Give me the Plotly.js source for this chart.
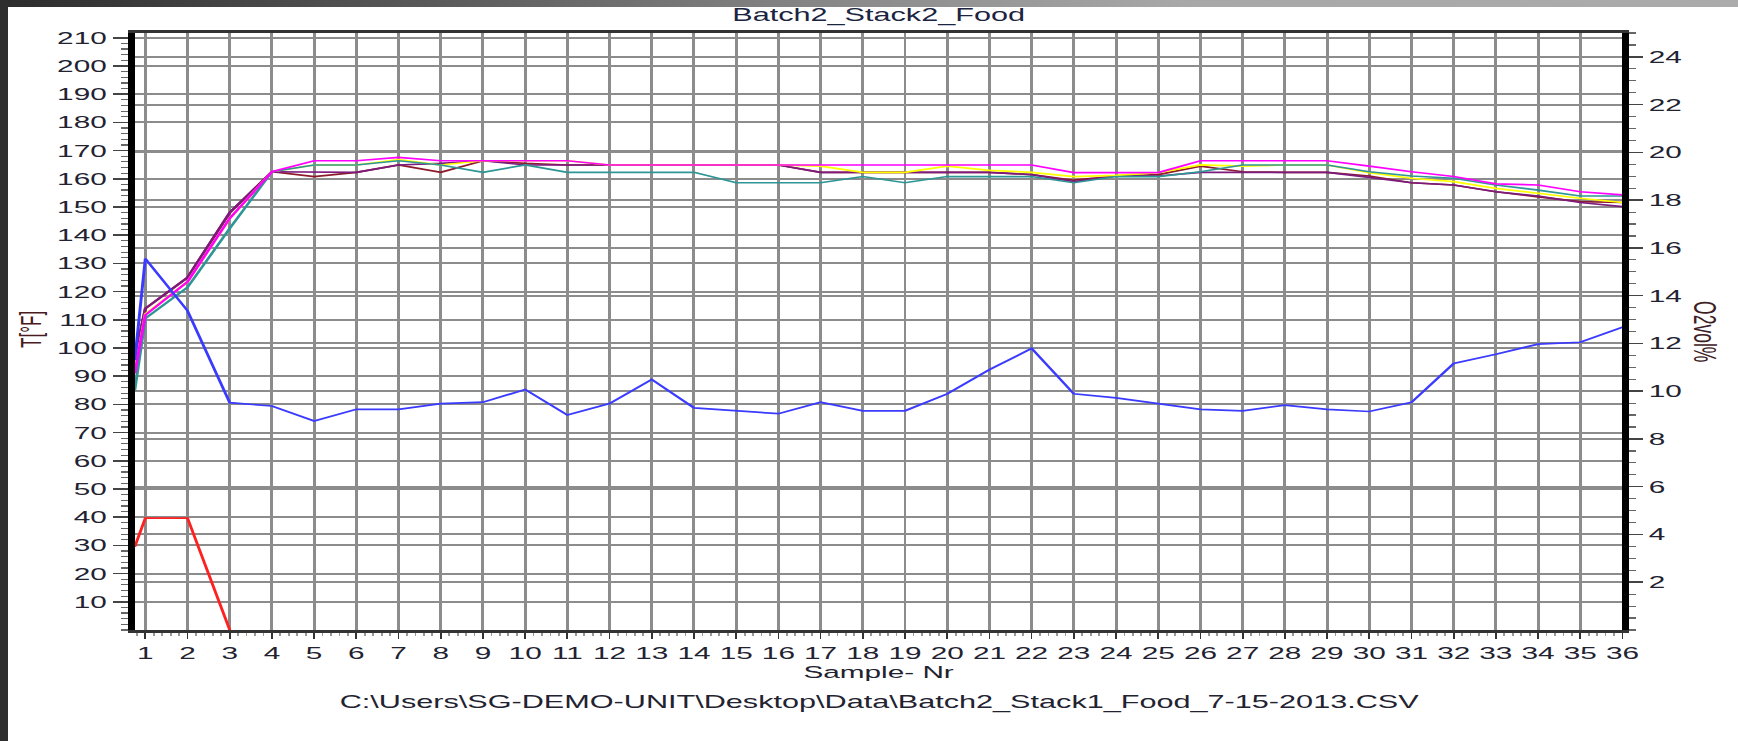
<!DOCTYPE html>
<html>
<head>
<meta charset="utf-8">
<script src="https://cdn.plot.ly/plotly-3.0.1.min.js"></script>
<style>
  html, body { margin:0; padding:0; background:#ffffff; }
  body { width:1738px; height:741px; overflow:hidden; position:relative; }
  #wrap { position:absolute; left:0; top:0; width:993px; height:741px; transform:scaleX(1.75025); transform-origin:0 0; }
  #chart { width:993px; height:741px; }
  #topbar { position:absolute; left:0; top:0; width:1738px; height:7px;
            background:linear-gradient(to right, #2c2c2c 0%, #5a5a5a 25%, #8c8c8c 50%, #a8a8a8 68%, #ababab 100%); }
  #leftbar { position:absolute; left:0; top:0; width:8px; height:741px; background:#2e2e2e; }
</style>
</head>
<body>
<div id="wrap"><div id="chart"></div></div>
<div id="topbar"></div>
<div id="leftbar"></div>
<script>
// ---- data ----
const SAMPLES = [0.75, 1, 2, 3, 4, 5, 6, 7, 8, 9, 10, 11, 12, 13, 14, 15, 16, 17, 18,
                 19, 20, 21, 22, 23, 24, 25, 26, 27, 28, 29, 30, 31, 32, 33, 34, 35, 36];

const T_MAROON = [96, 114, 125, 148, 162.5, 160.8, 162.3, 164.9, 162.3, 166.4, 165.5, 164.9, 164.9, 164.9, 164.9, 164.9, 164.9, 162.3, 162.3, 162.3, 162.3, 162.3, 161.5, 159.5, 161, 161.5, 164.5, 162.5, 162.3, 162.3, 161, 158.6, 157.8, 155.4, 153.6, 151.9, 151.6];
const T_PURPLE = [96, 114, 125, 148, 162.5, 162.3, 162.3, 164.9, 165.5, 166.4, 164.9, 164.9, 164.9, 164.9, 164.9, 164.9, 164.9, 162.3, 162.3, 162.3, 162.3, 162.3, 161.5, 159, 161, 161, 162.3, 162.3, 162.3, 162.3, 160.5, 158.6, 157.8, 155.4, 153.9, 151.6, 150.1];
const T_YELLOW = [91, 112, 123.5, 146, 162.5, 164.9, 164.9, 166.8, 164.9, 166.4, 166.4, 166.4, 164.9, 164.9, 164.9, 164.9, 164.9, 164.5, 162.3, 162.3, 164.5, 163, 162.3, 160.8, 161.2, 162.2, 164.9, 164.5, 164.9, 164.9, 162.2, 160.2, 159, 156.6, 154.8, 153.1, 151.6];
const T_TEAL = [85, 110.5, 121.5, 142.4, 162.5, 164.9, 164.9, 166.4, 164.9, 162.3, 164.9, 162.3, 162.3, 162.3, 162.3, 158.6, 158.6, 158.6, 160.8, 158.6, 160.8, 160.8, 160.8, 158.6, 160.8, 160.8, 162.5, 164.9, 164.9, 164.9, 162.5, 161, 160.2, 157.8, 156, 153.9, 153.9];
const T_MAGENTA = [91, 111.7, 123.5, 146, 162.5, 166.4, 166.4, 167.6, 166.4, 166.4, 166.4, 166.4, 164.9, 164.9, 164.9, 164.9, 164.9, 164.9, 164.9, 164.9, 164.9, 164.9, 164.9, 162.2, 162.2, 162.2, 166.4, 166.4, 166.4, 166.4, 164.5, 162.5, 160.8, 158.2, 157.8, 155.4, 154.3];
const RED_T = [29.5, 39.7, 39.7, 0];
const O2_VOL = [11.3, 15.55, 13.37, 9.52, 9.38, 8.75, 9.24, 9.24, 9.48, 9.54, 10.07, 9.0, 9.48, 10.49, 9.30, 9.18, 9.06, 9.54, 9.18, 9.18, 9.89, 10.9, 11.79, 9.89, 9.72, 9.48, 9.24, 9.18, 9.42, 9.24, 9.15, 9.53, 11.16, 11.55, 11.97, 12.05, 12.68];

const T_TICKS = [10, 20, 30, 40, 50, 60, 70, 80, 90, 100, 110, 120, 130, 140, 150, 160, 170, 180, 190, 200, 210];
const O2_TICKS = [2, 4, 6, 8, 10, 12, 14, 16, 18, 20, 22, 24];

const TITLE = 'Batch2_Stack2_Food';
const X_TITLE = 'Sample- Nr';
const Y_TITLE = 'T[°F]';
const Y2_TITLE = 'O2vol%';
const FILE_PATH = 'C:\\Users\\SG-DEMO-UNIT\\Desktop\\Data\\Batch2_Stack1_Food_7-15-2013.CSV';

// ---- traces ----
function tline(name, y, color) {
  return { type:'scatter', mode:'lines', name:name, x:SAMPLES, y:y, xaxis:'x', yaxis:'y',
           line:{ color:color, width:1.7 }, hoverinfo:'skip' };
}
const traces = [
  tline('T5', T_MAROON, '#8e1b2b'),
  tline('T4', T_PURPLE, '#7d1a7d'),
  tline('T3', T_YELLOW, '#ffff00'),
  tline('T2', T_TEAL, '#2f9696'),
  tline('T1', T_MAGENTA, '#ff00ff'),
  { type:'scatter', mode:'lines', name:'T6', x:SAMPLES.slice(0, RED_T.length), y:RED_T,
    xaxis:'x', yaxis:'y', line:{ color:'#ff2020', width:1.7 }, hoverinfo:'skip' },
  { type:'scatter', mode:'lines', name:'O2', x:SAMPLES, y:O2_VOL,
    xaxis:'x', yaxis:'y2', line:{ color:'#3b3bff', width:1.7 }, hoverinfo:'skip' }
];

const GRID = '#8c8c8c';
const TXT = '#222230';
const FONT = 'Liberation Sans, Arial, Helvetica, sans-serif';

const layout = {
  width: 993, height: 741,
  margin: { l: 77.1, r: 65.6, t: 33, b: 111, pad: 0 },
  paper_bgcolor: 'rgba(0,0,0,0)', plot_bgcolor: '#ffffff',
  showlegend: false,
  font: { family: FONT, size: 17, color: TXT },
  title: { text: TITLE, x: 0.5, xref: 'paper', xanchor: 'center',
           y: 1 - 15/741, yref: 'container', yanchor: 'middle',
           font: { family: FONT, size: 17.5, color: '#1b2440' } },
  xaxis: {
    range: [0.75, 36], tickmode: 'linear', tick0: 1, dtick: 1,
    ticks: 'outside', ticklen: 6, tickwidth: 1, tickcolor: '#333',
    showgrid: true, gridcolor: GRID, gridwidth: 1.7,
    showline: true, linecolor: '#333333', linewidth: 3, mirror: true,
    zeroline: false, tickfont: { family: FONT, size: 17, color: TXT },
    minor: { ticks: 'outside', ticklen: 3, tickwidth: 1, tickcolor: '#999', tickmode: 'linear', tick0: 1, dtick: 0.2, showgrid: false },
    fixedrange: true
  },
  yaxis: {
    range: [0, 211.7], tickmode: 'array', tickvals: T_TICKS, ticktext: T_TICKS.map(String),
    ticks: 'outside', ticklen: 9, tickwidth: 1.5, tickcolor: '#444',
    showgrid: true, gridcolor: GRID, gridwidth: 2,
    showline: true, linecolor: '#000000', linewidth: 3.6,
    zeroline: false, tickfont: { family: FONT, size: 17, color: TXT },
    minor: { ticks: 'outside', ticklen: 4, tickwidth: 1.2, tickcolor: '#666', tickmode: 'linear', tick0: 0, dtick: 2, showgrid: false },
    fixedrange: true
  },
  yaxis2: {
    overlaying: 'y', side: 'right',
    range: [0, 25], tickmode: 'array', tickvals: O2_TICKS, ticktext: O2_TICKS.map(String),
    ticks: 'outside', ticklen: 8, tickwidth: 1.5, tickcolor: '#444',
    showgrid: true, gridcolor: GRID, gridwidth: 2,
    showline: true, linecolor: '#000000', linewidth: 3.6,
    zeroline: false, tickfont: { family: FONT, size: 17, color: TXT },
    minor: { ticks: 'outside', ticklen: 4, tickwidth: 1.2, tickcolor: '#666', tickmode: 'linear', tick0: 0, dtick: 0.5, showgrid: false },
    fixedrange: true
  },
  annotations: [
    { text: X_TITLE, xref: 'paper', yref: 'paper', x: 0.5, y: -(672-630)/597,
      xanchor: 'center', yanchor: 'middle', showarrow: false,
      font: { family: FONT, size: 17, color: TXT } },
    { text: FILE_PATH, xref: 'paper', yref: 'paper', x: 0.5, y: -(703-630)/597,
      xanchor: 'center', yanchor: 'middle', showarrow: false,
      font: { family: FONT, size: 17.5, color: TXT } },
    { text: Y_TITLE, xref: 'paper', yref: 'paper', x: -0.0692, y: 0.503,
      xanchor: 'center', yanchor: 'middle', showarrow: false, textangle: -90,
      font: { family: FONT, size: 17, color: '#4a1c22' } },
    { text: Y2_TITLE, xref: 'paper', yref: 'paper', x: 1.0558, y: 0.5,
      xanchor: 'center', yanchor: 'middle', showarrow: false, textangle: 90,
      font: { family: FONT, size: 17.5, color: '#3d2024' } }
  ]
};

Plotly.newPlot('chart', traces, layout, { staticPlot: true, displayModeBar: false, responsive: false });
</script>
</body>
</html>
